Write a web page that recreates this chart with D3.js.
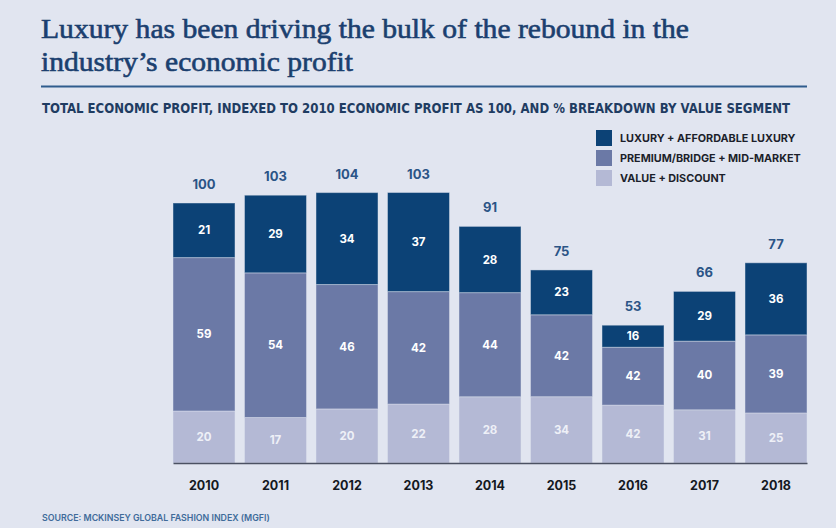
<!DOCTYPE html>
<html>
<head>
<meta charset="utf-8">
<script src="https://cdn.jsdelivr.net/npm/d3@7"></script>
<style>
  html, body { margin: 0; padding: 0; background: #e1e5f0; }
  svg { display: block; }
</style>
</head>
<body>
<svg id="chart" width="836" height="528"></svg>
<script>
// Economic profit index (2010 = 100) and % split by value segment
const years    = ["2010", "2011", "2012", "2013", "2014", "2015", "2016", "2017", "2018"];
const totals   = [100, 103, 104, 103, 91, 75, 53, 66, 77];
const luxury   = [21, 29, 34, 37, 28, 23, 16, 29, 36];
const premium  = [59, 54, 46, 42, 44, 42, 42, 40, 39];
const valueSeg = [20, 17, 20, 22, 28, 34, 42, 31, 25];

const segmentNames  = ["VALUE + DISCOUNT", "PREMIUM/BRIDGE + MID-MARKET", "LUXURY + AFFORDABLE LUXURY"];
const segmentColors = ["#b4b9d5", "#6b79a6", "#0c4276"];
const segmentText   = ["#eef0f7", "#ffffff", "#ffffff"];

const svg = d3.select("#chart");
const W = 836, H = 528;

svg.append("rect").attr("width", W).attr("height", H).attr("fill", "#e1e5f0");

// Title
const titleLines = [
  { text: "Luxury has been driving the bulk of the rebound in the", y: 38, len: 648 },
  { text: "industry\u2019s economic profit", y: 71, len: 312 }
];
svg.selectAll("text.title").data(titleLines).join("text")
  .attr("class", "title")
  .attr("x", 41).attr("y", d => d.y)
  .attr("textLength", d => d.len).attr("lengthAdjust", "spacingAndGlyphs")
  .attr("font-family", "'Liberation Serif', 'DejaVu Serif', serif")
  .attr("font-size", 28).attr("fill", "#1b3f6f")
  .attr("stroke", "#1b3f6f").attr("stroke-width", 0.6)
  .text(d => d.text);

svg.append("line")
  .attr("x1", 41).attr("x2", 807).attr("y1", 86.5).attr("y2", 86.5)
  .attr("stroke", "#2f5c8d").attr("stroke-width", 2);

svg.append("text")
  .attr("x", 42).attr("y", 113)
  .attr("textLength", 748).attr("lengthAdjust", "spacingAndGlyphs")
  .attr("font-family", "'DejaVu Sans Condensed', 'Liberation Sans Narrow', 'Roboto', sans-serif")
  .attr("font-weight", "bold").attr("font-size", 13.5).attr("fill", "#1f3c62")
  .text("TOTAL ECONOMIC PROFIT, INDEXED TO 2010 ECONOMIC PROFIT AS 100, AND % BREAKDOWN BY VALUE SEGMENT");

// Scales
const x = d3.scaleBand().domain(years).range([173, 807]).paddingInner(0.133).paddingOuter(0);
const y = d3.scaleLinear().domain([0, 100]).range([463, 203]);

// Stack data: each segment's size is its share of that year's total
const rows = years.map((yr, i) => ({
  year: yr,
  total: totals[i],
  pcts: [valueSeg[i], premium[i], luxury[i]]
}));
const segs = [];
rows.forEach(r => {
  let acc = 0;
  r.pcts.forEach((p, k) => {
    const v = r.total * p / 100;
    segs.push({ year: r.year, k, pct: p, y0: acc, y1: acc + v });
    acc += v;
  });
  r.top = acc;
});

const g = svg.append("g");
g.selectAll("rect.seg").data(segs).join("rect")
  .attr("class", "seg")
  .attr("x", d => x(d.year))
  .attr("width", x.bandwidth())
  .attr("y", d => y(d.y1))
  .attr("height", d => y(d.y0) - y(d.y1))
  .attr("fill", d => segmentColors[d.k])
  .attr("stroke", "rgba(225,229,240,0.45)")
  .attr("stroke-width", 1);

g.selectAll("text.seglab").data(segs).join("text")
  .attr("class", "seglab")
  .attr("x", d => x(d.year) + x.bandwidth() / 2)
  .attr("y", d => (y(d.y0) + y(d.y1)) / 2 + 4)
  .attr("text-anchor", "middle")
  .attr("font-family", "'Inter', 'Roboto', sans-serif")
  .attr("font-weight", "bold").attr("font-size", 11.5)
  .attr("fill", d => segmentText[d.k])
  .text(d => d.pct);

g.selectAll("text.total").data(rows).join("text")
  .attr("class", "total")
  .attr("x", d => x(d.year) + x.bandwidth() / 2)
  .attr("y", d => y(d.top) - 14)
  .attr("text-anchor", "middle")
  .attr("font-family", "'Inter', 'Roboto', sans-serif")
  .attr("font-weight", "bold").attr("font-size", 13)
  .attr("fill", "#2b5486")
  .text(d => d.total);

// Baseline axis
const xAxis = d3.axisBottom(x).tickSize(0).tickPadding(18);
const ax = svg.append("g").attr("transform", "translate(0,463)").call(xAxis);
ax.select(".domain").attr("stroke", "#4b5162").attr("stroke-width", 1.5);
ax.selectAll("text")
  .attr("font-family", "'Inter', 'Roboto', sans-serif")
  .attr("font-weight", "bold").attr("font-size", 12.5)
  .attr("fill", "#141821");

// Legend
const legend = svg.append("g").attr("transform", "translate(596,130)");
const legendItems = [2, 1, 0];
legendItems.forEach((k, i) => {
  legend.append("rect")
    .attr("x", 0).attr("y", i * 20).attr("width", 16).attr("height", 16)
    .attr("fill", segmentColors[k]);
  legend.append("text")
    .attr("x", 24).attr("y", i * 20 + 12)
    .attr("font-family", "'Inter', 'Roboto', sans-serif")
    .attr("font-weight", "bold").attr("font-size", 10.8)
    .attr("fill", "#1c1f2b")
    .text(segmentNames[k]);
});

// Source
svg.append("text")
  .attr("x", 42).attr("y", 521)
  .attr("font-family", "'Inter', 'Roboto', sans-serif")
  .attr("font-weight", 600).attr("font-size", 8.8)
  .attr("fill", "#406b9a")
  .text("SOURCE: MCKINSEY GLOBAL FASHION INDEX (MGFI)");
</script>
</body>
</html>
